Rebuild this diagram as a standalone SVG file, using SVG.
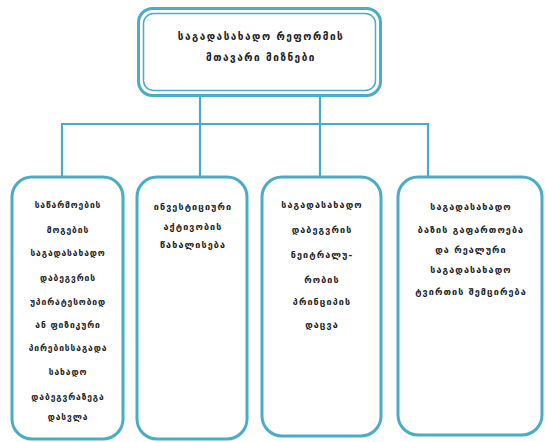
<svg xmlns="http://www.w3.org/2000/svg" width="545" height="442" viewBox="0 0 545 442">
<style>
.box{fill:#ffffff;stroke:#4BACC6;stroke-width:3}
.inner{fill:none;stroke:#4BACC6;stroke-width:1.5}
.conn{fill:none;stroke:#4BACC6;stroke-width:2.2}
text{font-family:"DejaVu Sans",sans-serif;font-weight:bold;fill:#1a1a1a;text-anchor:middle}
.t{font-size:10px;letter-spacing:1.5px}
.s{font-size:9px;letter-spacing:1.1px}
.u{font-size:8.5px;letter-spacing:0.9px}
</style>
<rect width="545" height="442" fill="#ffffff"/>
<g id="connectors">
<path class="conn" d="M200 96V177M320 96V177M62 124H428M62 123V177M428 123V177"/>
</g>
<g id="root">
<rect class="box" x="138.5" y="8.5" width="242" height="87" rx="14"/>
<rect class="inner" x="143.5" y="13.5" width="232" height="77" rx="10"/>
<text class="t" x="261" y="40">საგადასახადო რეფორმის</text>
<text class="t" x="261" y="61">მთავარი მიზნები</text>
</g>
<g id="goal1">
<rect class="box" x="12" y="177" width="111" height="262" rx="20"/>
<text class="u" x="68" y="208">საწარმოების</text>
<text class="u" x="68" y="233">მოგების</text>
<text class="u" x="68" y="256">საგადასახადო</text>
<text class="u" x="68" y="281">დაბეგვრის</text>
<text class="u" x="68" y="305">უპირატესობიდ</text>
<text class="u" x="68" y="328">ან ფიზიკური</text>
<text class="u" x="68" y="351">პირებისსაგადა</text>
<text class="u" x="68" y="375">სახადო</text>
<text class="u" x="68" y="400">დაბეგვრაზეგა</text>
<text class="u" x="68" y="420">დასვლა</text>
</g>
<g id="goal2">
<rect class="box" x="137" y="177" width="110" height="262" rx="20"/>
<text class="s" x="193" y="210">ინვესტიციური</text>
<text class="s" x="193" y="230">აქტივობის</text>
<text class="s" x="193" y="248">წახალისება</text>
</g>
<g id="goal3">
<rect class="box" x="262" y="177" width="119" height="259" rx="20"/>
<text class="s" x="322" y="208">საგადასახადო</text>
<text class="s" x="322" y="233">დაბეგვრის</text>
<text class="s" x="322" y="258">ნეიტრალუ-</text>
<text class="s" x="322" y="283">რობის</text>
<text class="s" x="322" y="305">პრინციპის</text>
<text class="s" x="322" y="328">დაცვა</text>
</g>
<g id="goal4">
<rect class="box" x="398" y="177" width="144" height="258" rx="20"/>
<text class="s" x="471" y="210">საგადასახადო</text>
<text class="s" x="471" y="233">ბაზის გაფართოება</text>
<text class="s" x="471" y="253">და რეალური</text>
<text class="s" x="471" y="273">საგადასახადო</text>
<text class="s" x="471" y="295">ტვირთის შემცირება</text>
</g>
</svg>
